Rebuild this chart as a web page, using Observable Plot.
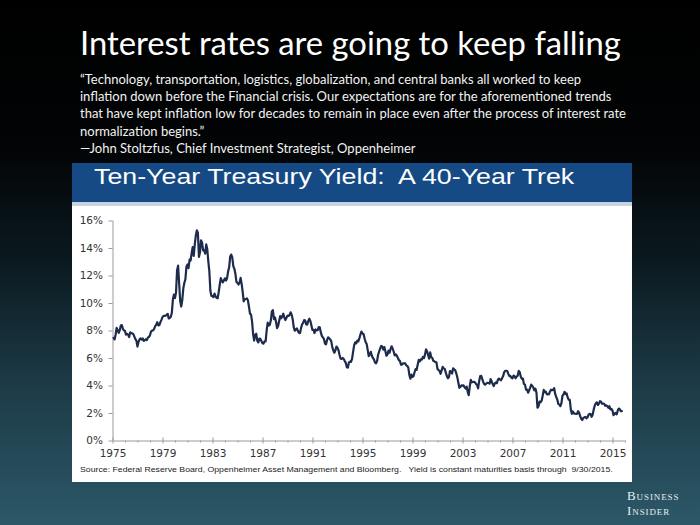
<!DOCTYPE html>
<html>
<head>
<meta charset="utf-8">
<script src="https://cdn.jsdelivr.net/npm/d3@7"></script>
<script src="https://cdn.jsdelivr.net/npm/@observablehq/plot@0.6"></script>
<style>
  html, body { margin: 0; padding: 0; }
  body {
    width: 700px; height: 525px; position: relative; overflow: hidden;
    background: linear-gradient(to bottom, #000 0%, #020405 28%, #0b1a20 50%, #1c3945 72%, #2c5868 100%);
    font-family: Lato, "Open Sans", sans-serif;
  }
  #title { position: absolute; left: 80px; top: 23px; color: #fff; font-size: 32.8px; white-space: nowrap; }
  #quote { position: absolute; left: 80px; top: 71px; color: #f2f2f2; font-size: 13px; line-height: 17.2px; white-space: nowrap; }
  #panel { position: absolute; left: 72px; top: 163px; width: 560px; height: 319px; background: #fff; }
  #header { height: 39px; background: #164a84; position: relative; }
  #header span { position: absolute; left: 22px; top: 1px; color: #fff; font-family: "Liberation Sans", Arial, sans-serif; font-size: 22.5px; line-height: 26px; white-space: pre; transform: scaleX(1.19); transform-origin: 0 0; }
  #stripe { height: 4px; background: #c7d3dd; }
  #chart svg { display: block; }
  #source { position: absolute; left: 8px; top: 302px; font-family: "Liberation Sans", Arial, sans-serif; font-size: 8px; color: #222; white-space: pre; transform: scaleX(1.09); transform-origin: 0 0; }
  #logo { position: absolute; left: 627px; top: 489px; color: #e6eef0; font-family: "Liberation Serif", "DejaVu Serif", serif; font-size: 13px; line-height: 14.5px; letter-spacing: 0.9px; font-variant: small-caps; }
</style>
</head>
<body>
<div id="title">Interest rates are going to keep falling</div>
<div id="quote">“Technology, transportation, logistics, globalization, and central banks all worked to keep<br>inflation down before the Financial crisis. Our expectations are for the aforementioned trends<br>that have kept inflation low for decades to remain in place even after the process of interest rate<br>normalization begins.”<br>—John Stoltzfus, Chief Investment Strategist, Oppenheimer</div>
<div id="panel">
  <div id="header"><span>Ten-Year Treasury Yield:  A 40-Year Trek</span></div>
  <div id="stripe"></div>
  <div id="chart"></div>
  <div id="source">Source: Federal Reserve Board, Oppenheimer Asset Management and Bloomberg.   Yield is constant maturities basis through  9/30/2015.</div>
</div>
<div id="logo">Business<br>Insider</div>
<script>
// Monthly 10-year Treasury yield (%), Jan..Dec
const yields1975to1979 = [
  7.50, 7.39, 7.73, 8.23, 8.06, 7.86, 8.06, 8.40, 8.43, 8.14, 8.05, 8.00,
  7.74, 7.79, 7.73, 7.56, 7.90, 7.86, 7.83, 7.77, 7.59, 7.41, 7.29, 6.87,
  7.21, 7.39, 7.46, 7.37, 7.46, 7.28, 7.33, 7.40, 7.34, 7.52, 7.58, 7.69,
  7.96, 8.03, 8.04, 8.15, 8.35, 8.46, 8.64, 8.41, 8.42, 8.64, 8.81, 9.01,
  9.10, 9.10, 9.12, 9.18, 9.25, 8.91, 8.95, 9.03, 9.33, 10.30, 10.65, 10.39
];
const yields1980to1989 = [
  10.80, 12.41, 12.75, 11.47, 10.18, 9.78, 10.25, 11.10, 11.51, 11.75, 12.68, 12.84,
  12.57, 13.19, 13.12, 13.68, 14.10, 13.47, 14.28, 14.94, 15.32, 15.15, 13.39, 13.72,
  14.59, 14.43, 13.86, 13.87, 13.62, 14.30, 13.95, 13.06, 12.34, 10.91, 10.55, 10.54,
  10.46, 10.72, 10.51, 10.40, 10.38, 10.85, 11.38, 11.85, 11.65, 11.54, 11.69, 11.83,
  11.67, 11.84, 12.32, 12.63, 13.41, 13.56, 13.36, 12.72, 12.52, 12.16, 11.57, 11.50,
  11.38, 11.51, 11.86, 11.43, 10.85, 10.16, 10.31, 10.33, 10.37, 10.24, 9.78, 9.26,
  9.19, 8.70, 7.78, 7.30, 7.71, 7.80, 7.30, 7.17, 7.45, 7.43, 7.25, 7.11,
  7.08, 7.25, 7.25, 8.02, 8.61, 8.40, 8.45, 8.76, 9.42, 9.52, 8.86, 8.99,
  8.67, 8.21, 8.37, 8.72, 9.09, 8.92, 9.06, 9.26, 8.98, 8.80, 8.96, 9.11,
  9.09, 9.17, 9.36, 9.18, 8.86, 8.28, 8.02, 8.11, 8.19, 8.01, 7.87, 7.84
];
const yields1990to1999 = [
  8.21, 8.47, 8.59, 8.79, 8.76, 8.48, 8.47, 8.75, 8.89, 8.72, 8.39, 8.08,
  8.09, 7.85, 8.11, 8.04, 8.07, 8.28, 8.27, 7.90, 7.65, 7.53, 7.42, 7.09,
  7.03, 7.34, 7.54, 7.48, 7.39, 7.26, 6.84, 6.59, 6.42, 6.59, 6.87, 6.77,
  6.60, 6.26, 5.98, 5.97, 6.04, 5.96, 5.81, 5.68, 5.36, 5.33, 5.72, 5.77,
  5.75, 5.97, 6.48, 6.97, 7.18, 7.10, 7.30, 7.24, 7.46, 7.74, 7.96, 7.81,
  7.78, 7.47, 7.20, 7.06, 6.63, 6.17, 6.28, 6.49, 6.20, 6.04, 5.93, 5.71,
  5.65, 5.81, 6.27, 6.51, 6.74, 6.91, 6.87, 6.64, 6.83, 6.53, 6.20, 6.30,
  6.58, 6.42, 6.69, 6.89, 6.71, 6.49, 6.22, 6.30, 6.21, 6.03, 5.88, 5.81,
  5.54, 5.57, 5.65, 5.64, 5.65, 5.50, 5.46, 5.34, 4.81, 4.53, 4.83, 4.65,
  4.72, 5.00, 5.23, 5.18, 5.54, 5.90, 5.79, 5.94, 5.92, 6.11, 6.03, 6.28
];
const yields2000to2009 = [
  6.66, 6.52, 6.26, 5.99, 6.44, 6.10, 6.05, 5.83, 5.80, 5.74, 5.72, 5.24,
  5.16, 5.10, 4.89, 5.14, 5.39, 5.28, 5.24, 4.97, 4.73, 4.57, 4.65, 5.09,
  5.04, 4.91, 5.28, 5.21, 5.16, 4.93, 4.65, 4.26, 3.87, 3.94, 4.05, 4.03,
  4.05, 3.90, 3.81, 3.96, 3.57, 3.33, 3.98, 4.45, 4.27, 4.29, 4.30, 4.27,
  4.15, 4.08, 3.83, 4.35, 4.72, 4.73, 4.50, 4.28, 4.13, 4.10, 4.19, 4.23,
  4.22, 4.17, 4.50, 4.34, 4.14, 4.00, 4.18, 4.26, 4.20, 4.46, 4.54, 4.47,
  4.42, 4.57, 4.72, 4.99, 5.11, 5.11, 5.09, 4.88, 4.72, 4.73, 4.60, 4.56,
  4.76, 4.72, 4.56, 4.69, 4.75, 5.10, 5.00, 4.67, 4.52, 4.53, 4.15, 4.10,
  3.74, 3.74, 3.51, 3.68, 3.88, 4.10, 4.01, 3.89, 3.69, 3.81, 3.53, 2.42,
  2.52, 2.87, 2.82, 2.93, 3.29, 3.72, 3.56, 3.59, 3.40, 3.39, 3.40, 3.59
];
const yields2010to2015 = [
  3.73, 3.69, 3.73, 3.85, 3.42, 3.20, 3.01, 2.70, 2.65, 2.54, 2.76, 3.29,
  3.39, 3.58, 3.41, 3.46, 3.17, 3.00, 3.00, 2.30, 1.98, 2.15, 2.01, 1.98,
  1.97, 1.97, 2.17, 2.05, 1.80, 1.62, 1.53, 1.68, 1.72, 1.75, 1.65, 1.72,
  1.91, 1.98, 1.96, 1.76, 1.93, 2.30, 2.58, 2.74, 2.81, 2.62, 2.72, 2.90,
  2.86, 2.71, 2.72, 2.71, 2.56, 2.60, 2.54, 2.42, 2.53, 2.30, 2.33, 2.21,
  1.88, 1.98, 2.04, 1.94, 2.20, 2.36, 2.32, 2.17, 2.17
];
const startYear = 1975;
const xTickYears = [1975, 1979, 1983, 1987, 1991, 1995, 1999, 2003, 2007, 2011, 2015];
const minorYears = d3.range(1975, 2017).filter(y => !xTickYears.includes(y));
const yTicks = [0, 2, 4, 6, 8, 10, 12, 14, 16];
const xDomain = [1975, 2016];

const allYields = [].concat(yields1975to1979, yields1980to1989, yields1990to1999, yields2000to2009, yields2010to2015);
const series = allYields.map((v, i) => ({ t: startYear + (i + 0.5) / 12, v }));

const chart = Plot.plot({
  width: 560,
  height: 276,
  marginLeft: 40.5,
  marginRight: 7,
  marginTop: 14.5,
  marginBottom: 41.5,
  x: { domain: xDomain },
  y: { domain: [yTicks[0], yTicks[yTicks.length - 1]] },
  style: { background: "#fff", fontFamily: "'DejaVu Sans', Verdana, sans-serif", fontSize: "10.5px", color: "#333", overflow: "visible" },
  marks: [
    Plot.axisY({ ticks: yTicks, tickSize: 4, tickPadding: 6, stroke: "#9a9a9a", fill: "#333", tickFormat: d => d + "%", label: null }),
    Plot.axisX({ ticks: xTickYears, tickSize: 0, tickPadding: 9, fill: "#333", tickFormat: d => String(d), label: null }),
    Plot.ruleY([0], { stroke: "#9a9a9a" }),
    Plot.ruleX([xDomain[0]], { stroke: "#9a9a9a" }),
    Plot.ruleX(xTickYears, { x: d => d, y1: 0, y2: 0, insetTop: -3, insetBottom: -3, stroke: "#9a9a9a" }),
    Plot.ruleX(minorYears, { x: d => d, y1: 0, y2: 0, insetTop: 0, insetBottom: -2, stroke: "#9a9a9a" }),
    Plot.line(series, { x: "t", y: "v", stroke: "#1d2b4c", strokeWidth: 2.2, strokeLinejoin: "round" })
  ]
});
document.getElementById("chart").appendChild(chart);
</script>
</body>
</html>
